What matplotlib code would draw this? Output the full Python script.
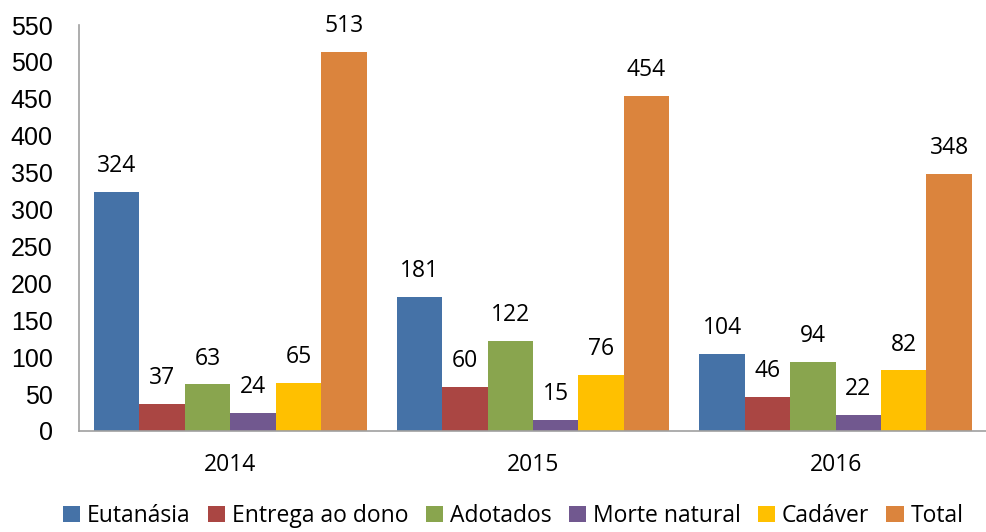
"""Grouped bar chart of animal outcomes per year, 2014-2016."""

import matplotlib.pyplot as plt
import numpy as np

years = ["2014", "2015", "2016"]
series_names = ["Eutanásia", "Entrega ao dono", "Adotados", "Morte natural", "Cadáver", "Total"]
eutanasia = [324, 181, 104]
entrega_ao_dono = [37, 60, 46]
adotados = [63, 122, 94]
morte_natural = [24, 15, 22]
cadaver = [65, 76, 82]
total = [513, 454, 348]
colors = ["#4572A7", "#AA4643", "#89A54E", "#71588F", "#FFC000", "#DB843D"]
y_ticks = list(range(0, 551, 50))

all_series = [eutanasia, entrega_ao_dono, adotados, morte_natural, cadaver, total]

fig = plt.figure(figsize=(9.87, 5.32), dpi=100)
ax = fig.add_axes([0.080, 0.190, 0.920, 0.763])

x = np.arange(len(years))
bar_w = 0.15
offsets = (np.arange(len(all_series)) - (len(all_series) - 1) / 2) * bar_w

for values, name, color, off in zip(all_series, series_names, colors, offsets):
    bars = ax.bar(x + off, values, bar_w, color=color, label=name, linewidth=0)
    for rect, v in zip(bars, values):
        ax.annotate(
            str(v),
            (rect.get_x() + rect.get_width() / 2, rect.get_height()),
            xytext=(0, 10),
            textcoords="offset points",
            ha="center",
            va="bottom",
            fontsize=16.5,
            family="Open Sans",
        )

ax.set_xlim(-0.5, len(years) - 0.5)
ax.set_ylim(0, 550)
ax.set_yticks(y_ticks)
ax.set_xticks(x)
ax.set_xticklabels(years, family="Open Sans", fontsize=16.5)
for lbl in ax.get_yticklabels():
    lbl.set_family("Liberation Sans")
    lbl.set_fontsize(18)
ax.tick_params(axis="y", length=0, pad=19)
ax.tick_params(axis="x", length=0, pad=16)

for side in ["top", "right"]:
    ax.spines[side].set_visible(False)
for side in ["left", "bottom"]:
    ax.spines[side].set_color("#A0A0A0")
    ax.spines[side].set_linewidth(1.2)

fig.legend(
    loc="center",
    bbox_to_anchor=(0.52, 0.03),
    ncol=6,
    frameon=False,
    prop={"family": "Open Sans", "size": 16.5},
    handlelength=0.75,
    handleheight=0.75,
    handletextpad=0.3,
    columnspacing=0.75,
    borderaxespad=0,
)

fig.savefig("out.png", dpi=100)
